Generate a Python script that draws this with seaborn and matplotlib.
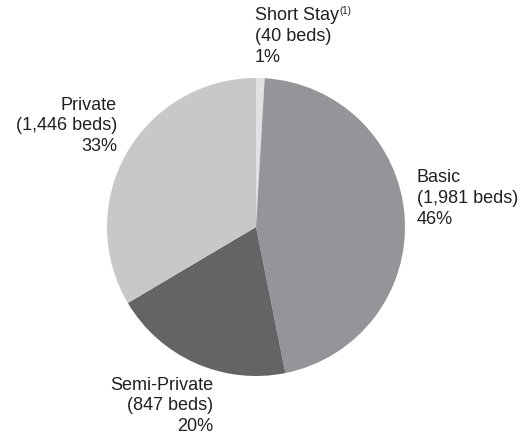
import matplotlib
matplotlib.use("Agg")
import matplotlib.pyplot as plt
import seaborn as sns

categories = ["Short Stay", "Basic", "Semi-Private", "Private"]
beds = [40, 1981, 847, 1446]
bed_labels = ["(40 beds)", "(1,981 beds)", "(847 beds)", "(1,446 beds)"]
pct_labels = ["1%", "46%", "20%", "33%"]
colors = ["#e1e2e4", "#939598", "#636466", "#c7c8ca"]

sns.set_theme(style="white")
plt.rcParams["font.family"] = ["Liberation Sans", "DejaVu Sans"]

W, H = 527, 436
fig = plt.figure(figsize=(W / 100, H / 100), dpi=100)
ax = fig.add_axes([0, 0, 1, 1])

cx, cy, r = 256, 227, 149
ax.pie(beds, colors=sns.color_palette(colors), startangle=90, counterclock=False,
       wedgeprops=dict(linewidth=0), radius=1)
ax.set_aspect("auto")
ax.set_xlim(-cx / r, (W - cx) / r)
ax.set_ylim(-(H - cy) / r, cy / r)
ax.axis("off")

def fx(x):
    return x / W

def fy(y):
    return 1 - y / H

# label placement: x anchor, y of first line centre (pixels)
label_pos = {
    "Short Stay": (255, 16, "left"),
    "Basic": (417, 178, "left"),
    "Semi-Private": (213, 385, "right"),
    "Private": (117, 105, "right"),
}
step = 20.8
fs = 13
tc = "#231f20"
fig.canvas.draw()
renderer = fig.canvas.get_renderer()
for cat, bl, pl in zip(categories, bed_labels, pct_labels):
    x, y, ha = label_pos[cat]
    for i, line in enumerate([cat, bl, pl]):
        t = fig.text(fx(x), fy(y + i * step), line, ha=ha, va="center",
                     fontsize=fs, color=tc)
        if i == 0 and cat == "Short Stay":
            bb = t.get_window_extent(renderer)
            fig.text(bb.x1 / W + 0.001, fy(y - 5), "(1)", ha="left", va="center",
                     fontsize=7, color=tc)

fig.savefig("out.png", dpi=100, facecolor="white")
